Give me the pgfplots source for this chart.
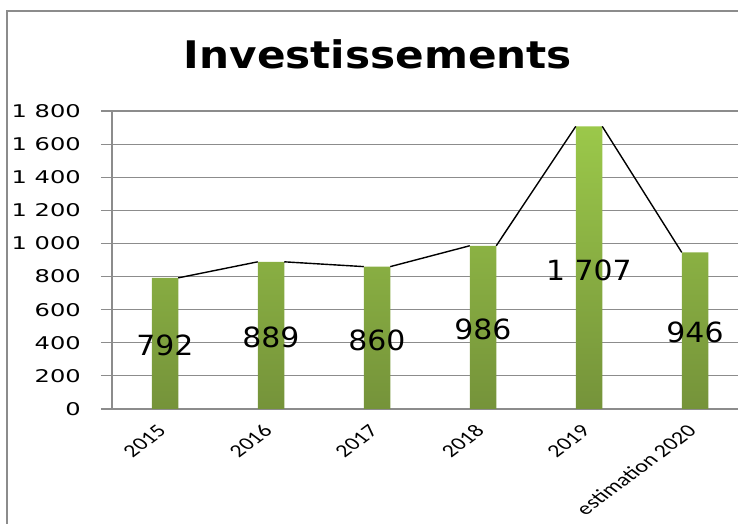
\documentclass[border=0pt]{standalone}
\usepackage{pgfplots}
\pgfplotsset{compat=1.18}
\usepackage{fontspec}
\setmainfont{DejaVu Sans}
\newfontfamily\ytickfont[FakeStretch=1.38]{DejaVu Sans}
\newfontfamily\labfont[FakeStretch=1.075]{DejaVu Sans}
\newfontfamily\titlefont[FakeStretch=1.11]{DejaVu Sans}
\newfontfamily\xtickfont{Carlito}
\definecolor{barTop}{HTML}{9BC84A}
\definecolor{barBot}{HTML}{75933A}
\definecolor{gridgray}{HTML}{8C8C8C}
\begin{document}
\begin{tikzpicture}[x=1pt,y=1pt]
\begin{axis}[
  at={(112pt,115pt)}, anchor=south west,
  scale only axis, width=636pt, height=298pt,
  xmin=-0.5, xmax=5.5, ymin=0, ymax=1800,
  axis x line*=bottom, axis y line*=left,
  axis line style={gridgray, line width=1.2pt, -},
  xtick={0,1,2,3,4,5},
  xticklabels={2015,2016,2017,2018,2019,estimation 2020},
  ytick={0,200,400,600,800,1000,1200,1400,1600,1800},
  yticklabels={0,200,400,600,800,1 000,1 200,1 400,1 600,1 800},
  ymajorgrids, grid style={gridgray, line width=1.2pt},
  ytick style={gridgray, line width=1.2pt},
  xtick style={draw=none},
  tick align=outside,
  major tick length=11pt,
  y tick label style={font=\ytickfont\fontsize{17.5}{20}\selectfont, anchor=east, inner sep=0pt, xshift=-20pt},
  x tick label style={font=\xtickfont\fontsize{18}{21}\selectfont, anchor=east, inner sep=0pt, xshift=-3pt, yshift=-8pt, xscale=1.34, rotate=45},
  clip=false,
]
\addplot[ybar, bar width=26.5pt, draw=none, top color=barTop, bottom color=barBot]
  coordinates {(0,792) (1,889) (2,860) (3,986) (4,1707) (5,946)};
\addplot[black, line width=1.4pt, mark=none, unbounded coords=jump]
  coordinates {(0.125,792) (0.875,889) (1,nan) (1.125,889) (1.875,860) (2,nan)
               (2.125,860) (2.875,986) (3,nan) (3.125,986) (3.875,1707) (4,nan)
               (4.125,1707) (4.875,946)};
\addplot[draw=none, mark=none, nodes near coords, point meta=explicit symbolic,
  every node near coord/.append style={anchor=center, inner sep=0pt, font=\labfont\fontsize{27.8}{30}\selectfont, black}]
  coordinates {(0,387) [792] (1,435) [889] (2,417) [860] (3,483) [986] (4,840) [1 707] (5,465) [946]};
\end{axis}
\node[font=\titlefont\bfseries\fontsize{38}{42}\selectfont, inner sep=0pt] at (378pt,470pt) {Investissements};
\draw[gridgray, line width=1.5pt] (7pt,-10pt) -- (7pt,513pt) -- (760pt,513pt);
\pgfresetboundingbox
\path[use as bounding box] (0,0) rectangle (738pt,524pt);
\end{tikzpicture}
\end{document}
